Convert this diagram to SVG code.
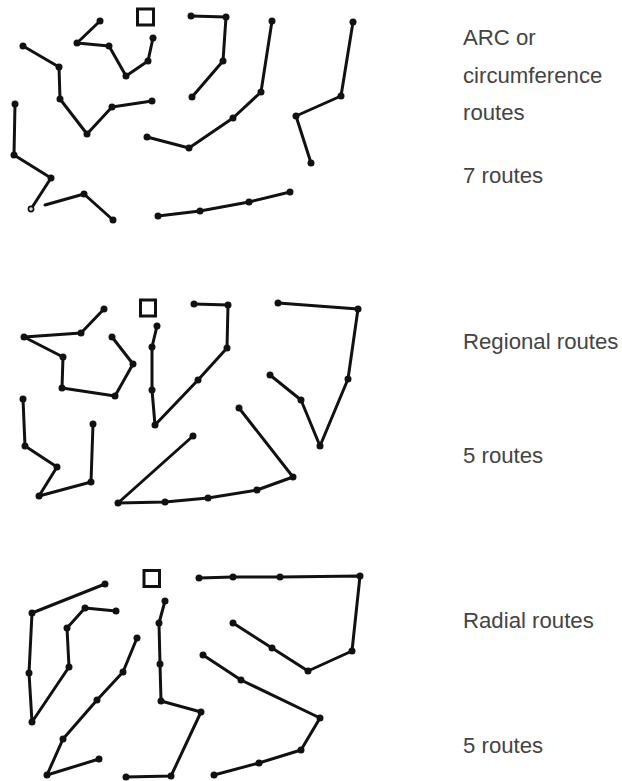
<svg xmlns="http://www.w3.org/2000/svg" width="622" height="781" viewBox="0 0 622 781">
<style>
.r{fill:none;stroke:#111;stroke-width:3;stroke-linejoin:round;stroke-linecap:round}
.d{fill:#111}
.h{fill:#ddd;stroke:#111;stroke-width:1.6}
.sq{fill:none;stroke:#111;stroke-width:3}
.t{font-family:"Liberation Sans",Arial,sans-serif;font-size:22.2px;fill:#444}
</style>
<rect width="622" height="781" fill="#fff"/>

<!-- Panel 1: ARC routes -->
<g id="arc">
<rect id="arc-depot" class="sq" x="137.5" y="9" width="16" height="16"/>
<g id="arc-r1">
<polyline class="r" points="100,21 77,43 109,46 126,76 148,61 153,38"/>
<g class="d"><circle cx="100" cy="21" r="3.5"/><circle cx="77" cy="43" r="3.5"/><circle cx="109" cy="46" r="3.5"/><circle cx="126" cy="76" r="3.5"/><circle cx="148" cy="61" r="3.5"/><circle cx="153" cy="38" r="3.5"/></g>
</g>
<g id="arc-r2">
<polyline class="r" points="23,46 59,67 60,99 87,134 112,107 152,101"/>
<g class="d"><circle cx="23" cy="46" r="3.5"/><circle cx="59" cy="67" r="3.5"/><circle cx="60" cy="99" r="3.5"/><circle cx="87" cy="134" r="3.5"/><circle cx="112" cy="107" r="3.5"/><circle cx="152" cy="101" r="3.5"/></g>
</g>
<g id="arc-r3">
<polyline class="r" points="15,104 14,155 51,178 31,209"/>
<polyline class="r" points="45,205 84,194 113,220"/>
<g class="d"><circle cx="15" cy="104" r="3.5"/><circle cx="14" cy="155" r="3.5"/><circle cx="51" cy="178" r="3.5"/><circle cx="84" cy="194" r="3.5"/><circle cx="113" cy="220" r="3.5"/></g>
<circle class="h" cx="31" cy="209" r="2.6"/>
</g>
<g id="arc-r4">
<polyline class="r" points="191,16 226,17 223,61 192,97"/>
<g class="d"><circle cx="191" cy="16" r="3.5"/><circle cx="226" cy="17" r="3.5"/><circle cx="223" cy="61" r="3.5"/><circle cx="192" cy="97" r="3.5"/></g>
</g>
<g id="arc-r5">
<polyline class="r" points="147,137 189,148 233,118 261,92 272,21"/>
<g class="d"><circle cx="147" cy="137" r="3.5"/><circle cx="189" cy="148" r="3.5"/><circle cx="233" cy="118" r="3.5"/><circle cx="261" cy="92" r="3.5"/><circle cx="272" cy="21" r="3.5"/></g>
</g>
<g id="arc-r6">
<polyline class="r" points="353,22 341,96 296,116 311,163"/>
<g class="d"><circle cx="353" cy="22" r="3.5"/><circle cx="341" cy="96" r="3.5"/><circle cx="296" cy="116" r="3.5"/><circle cx="311" cy="163" r="3.5"/></g>
</g>
<g id="arc-r7">
<polyline class="r" points="158,216 200,211 249,202 290,192"/>
<g class="d"><circle cx="158" cy="216" r="3.5"/><circle cx="200" cy="211" r="3.5"/><circle cx="249" cy="202" r="3.5"/><circle cx="290" cy="192" r="3.5"/></g>
</g>
<g id="arc-label">
<text class="t" x="463" y="45">ARC or</text>
<text class="t" x="463" y="83">circumference</text>
<text class="t" x="463" y="120">routes</text>
<text class="t" x="463" y="183">7 routes</text>
</g>
</g>

<!-- Panel 2: Regional routes -->
<g id="regional">
<rect id="reg-depot" class="sq" x="140.5" y="300" width="15" height="16"/>
<g id="reg-r1">
<polyline class="r" points="104,309 81,333 24,337 63,357 62,388 115,396 133,364 112,337"/>
<g class="d"><circle cx="104" cy="309" r="3.5"/><circle cx="81" cy="333" r="3.5"/><circle cx="24" cy="337" r="3.5"/><circle cx="63" cy="357" r="3.5"/><circle cx="62" cy="388" r="3.5"/><circle cx="115" cy="396" r="3.5"/><circle cx="133" cy="364" r="3.5"/><circle cx="112" cy="337" r="3.5"/></g>
</g>
<g id="reg-r2">
<polyline class="r" points="23,399 25,446 57,467 39,496 91,482 93,424"/>
<g class="d"><circle cx="23" cy="399" r="3.5"/><circle cx="25" cy="446" r="3.5"/><circle cx="57" cy="467" r="3.5"/><circle cx="39" cy="496" r="3.5"/><circle cx="91" cy="482" r="3.5"/><circle cx="93" cy="424" r="3.5"/></g>
</g>
<g id="reg-r3">
<polyline class="r" points="194,304 228,305 227,348 198,380 155,425 152,390 152,347 157,326"/>
<g class="d"><circle cx="194" cy="304" r="3.5"/><circle cx="228" cy="305" r="3.5"/><circle cx="227" cy="348" r="3.5"/><circle cx="198" cy="380" r="3.5"/><circle cx="155" cy="425" r="3.5"/><circle cx="152" cy="390" r="3.5"/><circle cx="152" cy="347" r="3.5"/><circle cx="157" cy="326" r="3.5"/></g>
</g>
<g id="reg-r4">
<polyline class="r" points="278,303 358,309 348,379 320,446 301,400 270,375"/>
<g class="d"><circle cx="278" cy="303" r="3.5"/><circle cx="358" cy="309" r="3.5"/><circle cx="348" cy="379" r="3.5"/><circle cx="320" cy="446" r="3.5"/><circle cx="301" cy="400" r="3.5"/><circle cx="270" cy="375" r="3.5"/></g>
</g>
<g id="reg-r5">
<polyline class="r" points="239,408 293,477 257,490 208,498 165,502 118,503 193,436"/>
<g class="d"><circle cx="239" cy="408" r="3.5"/><circle cx="293" cy="477" r="3.5"/><circle cx="257" cy="490" r="3.5"/><circle cx="208" cy="498" r="3.5"/><circle cx="165" cy="502" r="3.5"/><circle cx="118" cy="503" r="3.5"/><circle cx="193" cy="436" r="3.5"/></g>
</g>
<g id="reg-label">
<text class="t" x="463" y="349">Regional routes</text>
<text class="t" x="463" y="463">5 routes</text>
</g>
</g>

<!-- Panel 3: Radial routes -->
<g id="radial">
<rect id="rad-depot" class="sq" x="144" y="570.5" width="15.5" height="16"/>
<g id="rad-r1">
<polyline class="r" points="105,584 32,613 29,673 32,722 69,667 67,628 85,608 116,611"/>
<g class="d"><circle cx="105" cy="584" r="3.5"/><circle cx="32" cy="613" r="3.5"/><circle cx="29" cy="673" r="3.5"/><circle cx="32" cy="722" r="3.5"/><circle cx="69" cy="667" r="3.5"/><circle cx="67" cy="628" r="3.5"/><circle cx="85" cy="608" r="3.5"/><circle cx="116" cy="611" r="3.5"/></g>
</g>
<g id="rad-r2">
<polyline class="r" points="137,638 123,672 97,700 63,739 47,775 99,759"/>
<g class="d"><circle cx="137" cy="638" r="3.5"/><circle cx="123" cy="672" r="3.5"/><circle cx="97" cy="700" r="3.5"/><circle cx="63" cy="739" r="3.5"/><circle cx="47" cy="775" r="3.5"/><circle cx="99" cy="759" r="3.5"/></g>
</g>
<g id="rad-r3">
<polyline class="r" points="165,601 159,623 160,664 161,701 201,712 171,776 126,777"/>
<g class="d"><circle cx="165" cy="601" r="3.5"/><circle cx="159" cy="623" r="3.5"/><circle cx="160" cy="664" r="3.5"/><circle cx="161" cy="701" r="3.5"/><circle cx="201" cy="712" r="3.5"/><circle cx="171" cy="776" r="3.5"/><circle cx="126" cy="777" r="3.5"/></g>
</g>
<g id="rad-r4">
<polyline class="r" points="199,578 233,577 280,577 360,576 352,651 308,671 272,648 233,623"/>
<g class="d"><circle cx="199" cy="578" r="3.5"/><circle cx="233" cy="577" r="3.5"/><circle cx="280" cy="577" r="3.5"/><circle cx="360" cy="576" r="3.5"/><circle cx="352" cy="651" r="3.5"/><circle cx="308" cy="671" r="3.5"/><circle cx="272" cy="648" r="3.5"/><circle cx="233" cy="623" r="3.5"/></g>
</g>
<g id="rad-r5">
<polyline class="r" points="203,655 241,680 320,718 301,750 259,763 214,775"/>
<g class="d"><circle cx="203" cy="655" r="3.5"/><circle cx="241" cy="680" r="3.5"/><circle cx="320" cy="718" r="3.5"/><circle cx="301" cy="750" r="3.5"/><circle cx="259" cy="763" r="3.5"/><circle cx="214" cy="775" r="3.5"/></g>
</g>
<g id="rad-label">
<text class="t" x="463" y="628">Radial routes</text>
<text class="t" x="463" y="753">5 routes</text>
</g>
</g>
</svg>
